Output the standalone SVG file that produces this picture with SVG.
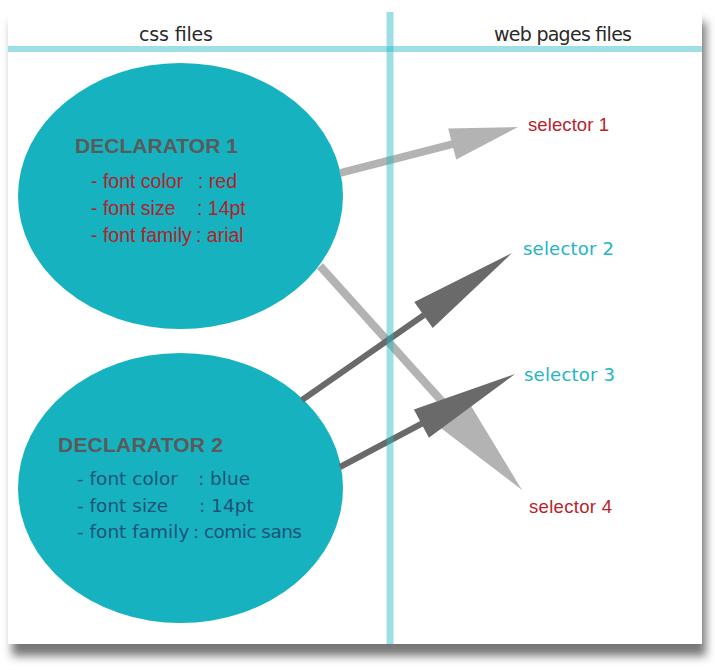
<svg xmlns="http://www.w3.org/2000/svg" width="715" height="671" viewBox="0 0 715 671">
  <defs>
    <filter id="shadow" x="-5%" y="-5%" width="115%" height="115%">
      <feGaussianBlur stdDeviation="5"/>
    </filter>
    <style>
      .ellipse { fill: #17b2bf; }
      .grid { stroke: #26b8c4; stroke-opacity: 0.45; fill: none; }
      .hdr { font-family: "DejaVu Sans", "Liberation Sans", sans-serif; font-size: 19px; fill: #2a2a2a; }
      .title { font-family: "Liberation Sans", Arial, sans-serif; font-weight: bold; font-size: 21px; fill: #5a5a5a; }
      .red { font-family: "Liberation Sans", Arial, sans-serif; font-size: 19.5px; fill: #b0232b; }
      .blue { font-family: "DejaVu Sans", "Liberation Sans", sans-serif; font-size: 18.5px; fill: #1d5478; }
      .selred { font-family: "Liberation Sans", Arial, sans-serif; font-size: 18.5px; fill: #b8232b; }
      .selcyan { font-family: "DejaVu Sans", "Liberation Sans", sans-serif; font-size: 18px; fill: #22b5c4; }
      .light { stroke: #b3b3b3; fill: #b3b3b3; }
      .dark { stroke: #6a6a6a; fill: #6a6a6a; }
    </style>
  </defs>

  <rect x="0" y="0" width="715" height="671" fill="#ffffff"/>
  <!-- frame with shadow -->
  <rect x="12" y="22" width="694" height="634" fill="#555" opacity="0.8" filter="url(#shadow)"/>
  <rect x="8" y="12" width="694" height="632" fill="#ffffff"/>

  <!-- headers -->
  <g id="header-css">
    <text class="hdr" x="139" y="41" textLength="74">css files</text>
  </g>
  <g id="header-web">
    <text class="hdr" x="494" y="41" textLength="138">web pages files</text>
  </g>

  <!-- declarator 1 -->
  <g id="declarator1">
    <ellipse class="ellipse" cx="180.5" cy="196" rx="162.5" ry="133"/>
    <text class="title" x="75" y="153" textLength="163">DECLARATOR 1</text>
    <text class="red" x="91" y="188">- font color</text>
    <text class="red" x="198" y="188">: red</text>
    <text class="red" x="91" y="215">- font size</text>
    <text class="red" x="197" y="215">: 14pt</text>
    <text class="red" x="91" y="242">- font family</text>
    <text class="red" x="196" y="242">: arial</text>
  </g>

  <!-- declarator 2 -->
  <g id="declarator2">
    <ellipse class="ellipse" cx="180.5" cy="488" rx="162.5" ry="135"/>
    <text class="title" x="58" y="452" textLength="165">DECLARATOR 2</text>
    <text class="blue" x="77" y="485">- font color</text>
    <text class="blue" x="198" y="485">: blue</text>
    <text class="blue" x="77" y="512">- font size</text>
    <text class="blue" x="199" y="512">: 14pt</text>
    <text class="blue" x="77" y="538">- font family</text>
    <text class="blue" x="193" y="538" textLength="109">: comic sans</text>
  </g>

  <!-- selectors -->
  <g id="selector1"><text class="selred" x="528" y="131" textLength="81">selector 1</text></g>
  <g id="selector2"><text class="selcyan" x="523" y="255" textLength="91">selector 2</text></g>
  <g id="selector3"><text class="selcyan" x="524" y="381" textLength="91">selector 3</text></g>
  <g id="selector4"><text class="selred" x="529" y="513" textLength="83">selector 4</text></g>

  <!-- connectors -->
  <g id="connectors">
    <g id="arrow-d1-s4" class="light">
      <line x1="320" y1="266" x2="452" y2="412.5" stroke-width="8"/>
      <polygon points="522,490 466.5,398.6 437.5,425.4" stroke="none"/>
    </g>
    <g id="arrow-d1-s1" class="light">
      <line x1="340" y1="173" x2="453" y2="144" stroke-width="8"/>
      <polygon points="518,127 456.2,159.5 448.2,128.5" stroke="none"/>
    </g>
    <g id="arrow-d2-s2" class="dark">
      <line x1="302" y1="400" x2="424" y2="315" stroke-width="6"/>
      <polygon points="512,253 432.7,328.1 414.3,301.9" stroke="none"/>
    </g>
    <g id="arrow-d2-s3" class="dark">
      <line x1="340" y1="467" x2="422" y2="423.5" stroke-width="6"/>
      <polygon points="515,374 428.9,437.8 413.9,409.6" stroke="none"/>
    </g>
  </g>

  <!-- table grid lines -->
  <g id="grid">
    <line class="grid" x1="8" y1="49" x2="702" y2="49" stroke-width="6"/>
    <line class="grid" x1="390" y1="12" x2="390" y2="644" stroke-width="7"/>
  </g>
</svg>
